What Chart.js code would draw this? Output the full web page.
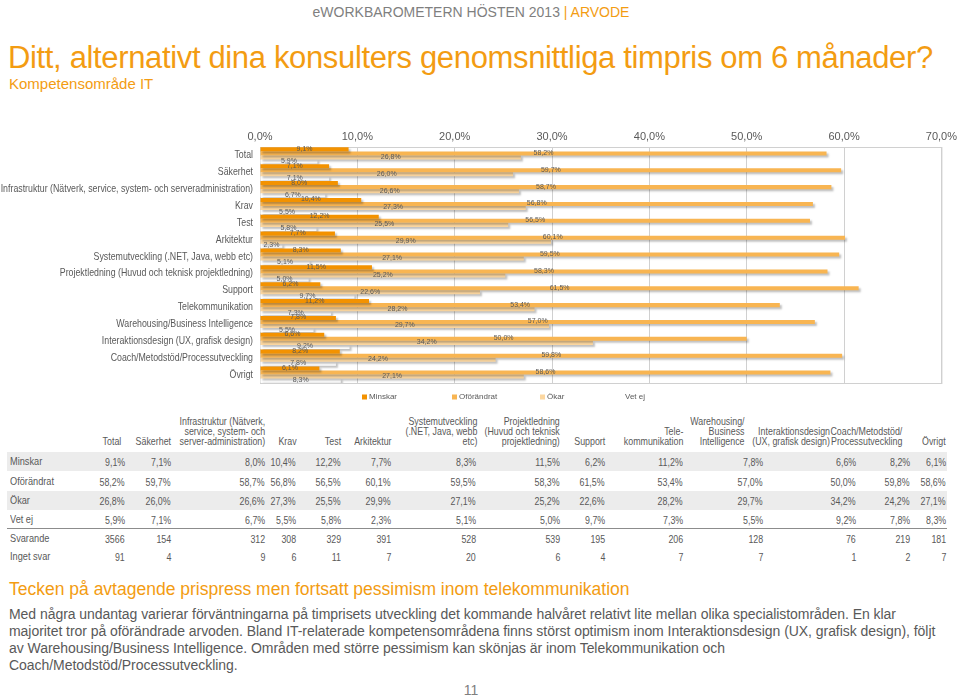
<!DOCTYPE html>
<html>
<head>
<meta charset="utf-8">
<script src="https://cdn.jsdelivr.net/npm/chart.js@4"></script>
<style>
  body { margin: 0; padding: 0; background: #fff; font-family: "Liberation Sans", Arial, sans-serif; }
  .page { position: relative; width: 960px; height: 699px; overflow: hidden; }
  .abs { position: absolute; white-space: nowrap; }
  .topline { top: 4px; left: 0; width: 942px; text-align: center; font-size: 14px; color: #7f7f7f; }
  .topline span { color: #f39c12; }
  .title { top: 40px; left: 8px; font-size: 31px; color: #f39c12; letter-spacing: -0.35px; }
  .subtitle { top: 75px; left: 9px; font-size: 15px; color: #f39c12; }
  .chart-wrap { position: absolute; left: 0; top: 125px; width: 960px; height: 290px; }
  .band { position: absolute; left: 7px; width: 940px; height: 19px; background: #ececec; }
  .cell { position: absolute; font-size: 11.5px; color: #595959; text-align: right; white-space: pre; line-height: 10px; transform: scaleX(0.77); transform-origin: right center; }
  .rowlab { position: absolute; left: 10px; font-size: 11.5px; color: #595959; transform: scaleX(0.8); transform-origin: left center; }
  .rule { position: absolute; left: 7px; width: 940px; height: 0; border-top: 1.5px solid #8c8c8c; }
  .heading { top: 579px; left: 9px; font-size: 17.5px; color: #f39c12; }
  .para { position: absolute; top: 606px; left: 9px; font-size: 14px; line-height: 17px; color: #595959; white-space: nowrap; letter-spacing: -0.05px; }
  .pagenum { top: 682px; left: 0; width: 942px; text-align: center; font-size: 14px; color: #7f7f7f; }
</style>
</head>
<body>
<div class="page" id="page">
  <div class="abs topline">eWORKBAROMETERN HÖSTEN 2013 <span>| ARVODE</span></div>
  <div class="abs title">Ditt, alternativt dina konsulters genomsnittliga timpris om 6 månader?</div>
  <div class="abs subtitle">Kompetensområde IT</div>
  <div class="chart-wrap"><canvas id="barChart" width="960" height="290"></canvas></div>
  <div id="table"></div>
  <div class="abs heading">Tecken på avtagende prispress men fortsatt pessimism inom telekommunikation</div>
  <div class="para">Med några undantag varierar förväntningarna på timprisets utveckling det kommande halvåret relativt lite mellan olika specialistområden. En klar<br>majoritet tror på oförändrade arvoden. Bland IT-relaterade kompetensområdena finns störst optimism inom Interaktionsdesign (UX, grafisk design), följt<br>av Warehousing/Business Intelligence. Områden med större pessimism kan skönjas är inom Telekommunikation och<br>Coach/Metodstöd/Processutveckling.</div>
  <div class="abs pagenum">11</div>
</div>
<script>
  // chart data
  const categories = [
    'Total', 'Säkerhet', 'Infrastruktur (Nätverk, service, system- och serveradministration)',
    'Krav', 'Test', 'Arkitektur', 'Systemutveckling (.NET, Java, webb etc)',
    'Projektledning (Huvud och teknisk projektledning)', 'Support', 'Telekommunikation',
    'Warehousing/Business Intelligence', 'Interaktionsdesign (UX, grafisk design)',
    'Coach/Metodstöd/Processutveckling', 'Övrigt'
  ];
  // headers used in the table below the chart
  const tableHeaders = [
    'Total', 'Säkerhet', 'Infrastruktur (Nätverk,\nservice, system- och\nserver-administration)',
    'Krav', 'Test', 'Arkitektur', 'Systemutveckling\n(.NET, Java, webb\netc)',
    'Projektledning\n(Huvud och teknisk\nprojektledning)', 'Support', 'Tele-\nkommunikation',
    'Warehousing/\nBusiness\nIntelligence', 'Interaktionsdesign\n(UX, grafisk design)',
    'Coach/Metodstöd/\nProcessutveckling', 'Övrigt'
  ];
  const minskar    = [9.1, 7.1, 8.0, 10.4, 12.2, 7.7, 8.3, 11.5, 6.2, 11.2, 7.8, 6.6, 8.2, 6.1];
  const oforandrat = [58.2, 59.7, 58.7, 56.8, 56.5, 60.1, 59.5, 58.3, 61.5, 53.4, 57.0, 50.0, 59.8, 58.6];
  const okar       = [26.8, 26.0, 26.6, 27.3, 25.5, 29.9, 27.1, 25.2, 22.6, 28.2, 29.7, 34.2, 24.2, 27.1];
  const vetEj      = [5.9, 7.1, 6.7, 5.5, 5.8, 2.3, 5.1, 5.0, 9.7, 7.3, 5.5, 9.2, 7.8, 8.3];
  const svarande   = [3566, 154, 312, 308, 329, 391, 528, 539, 195, 206, 128, 76, 219, 181];
  const ingetSvar  = [91, 4, 9, 6, 11, 7, 20, 6, 4, 7, 7, 1, 2, 7];
  const xTicks = [0, 10, 20, 30, 40, 50, 60, 70];

  const pct = v => v.toFixed(1).replace('.', ',') + '%';
  const FONT = '"Liberation Sans", Arial, sans-serif';

  // soft drop shadow on bars
  const shadowPlugin = {
    id: 'barShadow',
    beforeDatasetDraw(chart) {
      const ctx = chart.ctx;
      ctx.save();
      ctx.shadowColor = 'rgba(0,0,0,0.25)';
      ctx.shadowBlur = 2;
      ctx.shadowOffsetX = 2;
      ctx.shadowOffsetY = 2;
    },
    afterDatasetDraw(chart) { chart.ctx.restore(); }
  };

  // frame round the plot area
  const framePlugin = {
    id: 'frame',
    beforeDatasetsDraw(chart) {
      const { ctx, chartArea: a } = chart;
      ctx.save();
      ctx.strokeStyle = '#d0d0d0';
      ctx.lineWidth = 1;
      ctx.strokeRect(a.left + 0.5, a.top + 0.5, a.right - a.left, a.bottom - a.top);
      ctx.restore();
    }
  };

  // value labels centred on each bar
  const labelPlugin = {
    id: 'valueLabels',
    afterDatasetsDraw(chart) {
      const ctx = chart.ctx;
      ctx.save();
      ctx.font = '7px ' + FONT;
      ctx.fillStyle = '#595959';
      ctx.textAlign = 'center';
      ctx.textBaseline = 'middle';
      chart.data.datasets.forEach((ds, i) => {
        const meta = chart.getDatasetMeta(i);
        meta.data.forEach((bar, j) => {
          const x = (bar.x + bar.base) / 2;
          ctx.fillText(pct(ds.data[j]), x, bar.y - 0.5);
        });
      });
      ctx.restore();
    }
  };

  // category names, slightly condensed like the original slide
  const yLabelPlugin = {
    id: 'condensedY',
    afterDraw(chart) {
      const ctx = chart.ctx;
      const ys = chart.scales.y;
      ctx.save();
      ctx.font = '11px ' + FONT;
      ctx.fillStyle = '#595959';
      ctx.textAlign = 'right';
      ctx.textBaseline = 'middle';
      ys.ticks.forEach((t, i) => {
        ctx.save();
        ctx.translate(ys.right - 7, ys.getPixelForTick(i));
        ctx.scale(0.8, 1);
        ctx.fillText(chart.data.labels[t.value], 0, 0);
        ctx.restore();
      });
      ctx.restore();
    }
  };

  // legend row under the plot, spaced like the original
  const legendPlugin = {
    id: 'wideLegend',
    afterDraw(chart) {
      const ctx = chart.ctx;
      const starts = [362, 452, 540, 618];
      const y = chart.chartArea.bottom + 14;
      ctx.save();
      ctx.font = '8px ' + FONT;
      ctx.textBaseline = 'middle';
      chart.data.datasets.forEach((ds, i) => {
        ctx.fillStyle = ds.backgroundColor;
        ctx.fillRect(starts[i], y - 2.5, 5, 5);
        ctx.fillStyle = '#595959';
        ctx.fillText(ds.label, starts[i] + 7, y);
      });
      ctx.restore();
    }
  };

  const ctx = document.getElementById('barChart').getContext('2d');
  new Chart(ctx, {
    type: 'bar',
    data: {
      labels: categories,
      datasets: [
        { label: 'Minskar', data: minskar, backgroundColor: '#f39200' },
        { label: 'Oförändrat', data: oforandrat, backgroundColor: '#f8b552' },
        { label: 'Ökar', data: okar, backgroundColor: '#fcd7a0' },
        { label: 'Vet ej', data: vetEj, backgroundColor: '#ffffff' }
      ]
    },
    plugins: [framePlugin, shadowPlugin, labelPlugin, yLabelPlugin, legendPlugin],
    options: {
      indexAxis: 'y',
      responsive: false,
      animation: false,
      categoryPercentage: 0.96,
      barPercentage: 1.0,
      layout: { padding: { left: 0, right: 14, top: 0, bottom: 32 } },
      scales: {
        x: {
          position: 'top',
          min: 0,
          max: 70,
          afterBuildTicks: s => { s.ticks = xTicks.map(v => ({ value: v })); },
          afterFit: s => { s.height = 22; },
          grid: { color: '#d0d0d0', drawTicks: false },
          border: { display: false },
          ticks: {
            padding: 3,
            color: '#595959',
            font: { family: FONT, size: 11 },
            callback: v => pct(v)
          }
        },
        y: {
          afterFit: s => { s.width = 260; },
          grid: { display: false, drawTicks: false },
          border: { display: false },
          ticks: { display: false, autoSkip: false }
        }
      },
      plugins: {
        tooltip: { enabled: false },
        legend: { display: false }
      }
    }
  });

  // table under the chart
  const colRight = [125, 171, 265, 296, 341, 391, 476, 560, 605, 683, 763, 856, 910, 946];
  const headRight = [121, 171, 265, 297, 341, 392, 477, 560, 605, 683, 745, 830, 902, 946];
  const rows = [
    { name: 'Minskar', vals: minskar.map(pct), y: 452, band: true },
    { name: 'Oförändrat', vals: oforandrat.map(pct), y: 472, band: false },
    { name: 'Ökar', vals: okar.map(pct), y: 491, band: true },
    { name: 'Vet ej', vals: vetEj.map(pct), y: 510, band: false },
    { name: 'Svarande', vals: svarande.map(String), y: 529, band: false },
    { name: 'Inget svar', vals: ingetSvar.map(String), y: 547, band: false }
  ];
  const tbl = document.getElementById('table');
  let html = '';
  tableHeaders.forEach((h, i) => {
    const lines = h.split('\n').length;
    const top = 446 - lines * 10;
    html += `<div class="cell" style="top:${top}px;right:${960 - headRight[i]}px">${h}</div>`;
  });
  rows.forEach(r => {
    if (r.band) html += `<div class="band" style="top:${r.y}px"></div>`;
    html += `<div class="rowlab" style="top:${r.y + 3}px">${r.name}</div>`;
    r.vals.forEach((v, i) => {
      html += `<div class="cell" style="top:${r.y + 5}px;right:${960 - colRight[i]}px">${v}</div>`;
    });
  });
  html += `<div class="rule" style="top:528px"></div>`;
  tbl.innerHTML = html;
</script>
</body>
</html>
